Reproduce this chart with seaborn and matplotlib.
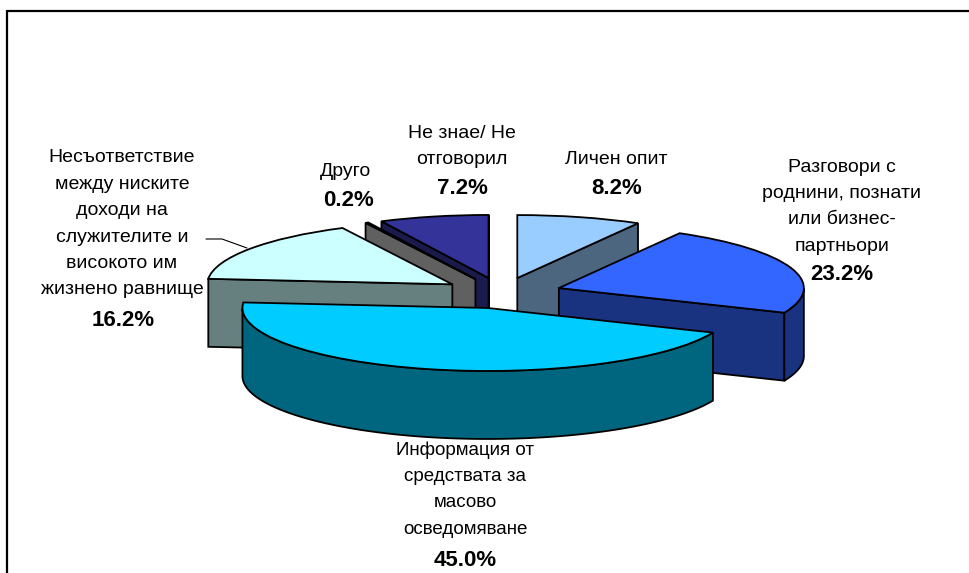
import numpy as np
import matplotlib.pyplot as plt
import seaborn as sns

# Slices in clockwise order, starting at 12 o'clock
names = [
    "Личен опит",
    "Разговори с\nроднини, познати\nили бизнес-\nпартньори",
    "Информация от\nсредствата за\nмасово\nосведомяване",
    "Несъответствие\nмежду ниските\nдоходи на\nслужителите и\nвисокото им\nжизнено равнище",
    "Друго",
    "Не знае/ Не\nотговорил",
]
values = [8.2, 23.2, 45.0, 16.2, 0.2, 7.2]
top_colors = ["#99CCFF", "#3366FF", "#00CCFF", "#CCFFFF", "#C0C0C0", "#333399"]

# back to front
draw_order = [0, 5, 4, 3, 1, 2]

# label block: centre x, y of first line, position of the percent (pixels from the top)
label_x = [616, 842, 465, 122, 346, 462]
label_y = [159, 167, 450, 158, 171, 133]
label_size = [14, 14, 13.5, 14, 14, 14]
pct_x = [616.5, 842, 465.5, 123, 349, 462]
pct_y = [189, 275, 560, 320, 200, 189]

W, H = 970, 573
RADIUS = 245
SQUASH = 63 / 245  # tilt of the pie
DEPTH = 68 / SQUASH
LINE = 26.4

sns.set_style("white")
plt.rcParams["font.family"] = ["Liberation Sans", "DejaVu Sans"]
palette = sns.color_palette(top_colors)


def py(y):
    # pixel row to data y
    return (H - y) / SQUASH


fig = plt.figure(figsize=(W / 100, H / 100), dpi=100)
ax = fig.add_axes([0, 0, 1, 1])

# explode is in data units here because of the large radius
wedges, _ = ax.pie(
    values,
    explode=[0.245 * RADIUS] * len(values),
    colors=palette,
    startangle=90,
    counterclock=False,
    radius=RADIUS,
    center=(502, py(293)),
    wedgeprops={"edgecolor": "black", "linewidth": 1.3},
)
ax.set_aspect("auto")
ax.set_xlim(0, W)
ax.set_ylim(0, H / SQUASH)
ax.axis("off")


def add_wall(xs, ys, color, z):
    # close the strip: go along the top edge, come back along the bottom edge
    xx = np.concatenate([xs, xs[::-1]])
    yy = np.concatenate([ys, ys[::-1] - DEPTH])
    ax.fill(xx, yy, facecolor=color, edgecolor="black", linewidth=1.3, zorder=z)


for z, i in enumerate(draw_order):
    w = wedges[i]
    cx, cy = w.center
    wall = tuple(np.array(palette[i]) * 0.5)
    z = z * 2 + 2
    w.set_zorder(z + 1)
    for edge, normal in [(w.theta1, w.theta1 - 90), (w.theta2, w.theta2 + 90)]:
        if np.sin(np.radians(normal)) < 0:
            t = np.radians(edge)
            add_wall(np.array([cx, cx + RADIUS * np.cos(t)]),
                     np.array([cy, cy + RADIUS * np.sin(t)]), wall, z)
    # outer rim, only the part facing the viewer
    t = np.radians(np.linspace(w.theta1, w.theta2, 200))
    t = t[np.sin(t) <= 0]
    if len(t) > 1:
        add_wall(cx + RADIUS * np.cos(t), cy + RADIUS * np.sin(t), wall, z)

# Labels, every line placed on its own row
for i, name in enumerate(names):
    lines = name.split("\n")
    for k, line in enumerate(lines):
        ax.text(label_x[i], py(label_y[i] + k * LINE), line, fontsize=label_size[i],
                ha="center", va="center", color="black", zorder=30)
    ax.text(pct_x[i], py(pct_y[i]), f"{values[i]:.1f}%", fontsize=16,
            fontweight="bold", ha="center", va="center", color="black", zorder=30)

# Leader line of the 16.2% label
ax.plot([206, 222, 247], [py(239), py(239), py(248)], color="black", lw=0.8, zorder=30)

# Chart frame, only top and left reach inside the image
ax.plot([7.5, W], [py(10.5), py(10.5)], color="black", lw=1.6, zorder=30)
ax.plot([7.5, 7.5], [py(10.5), py(H)], color="black", lw=1.6, zorder=30)

fig.savefig("out.png", dpi=100)
